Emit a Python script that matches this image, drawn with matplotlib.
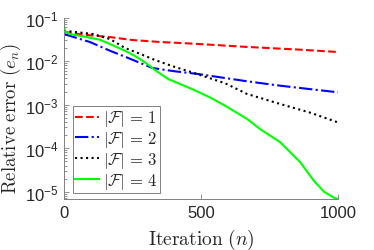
import numpy as np
import matplotlib
matplotlib.use('Agg')
import matplotlib.pyplot as plt
from matplotlib.ticker import FixedLocator, LogLocator, NullFormatter, NullLocator

plt.rcParams['font.family'] = ['Liberation Sans', 'DejaVu Sans']
plt.rcParams['mathtext.fontset'] = 'custom'
plt.rcParams['mathtext.rm'] = 'Liberation Sans'
plt.rcParams['mathtext.it'] = 'Liberation Sans:italic'

# values (iteration, relative error)
n_red = [0, 50, 100, 170, 250, 350, 450, 550, 650, 750, 850, 1000]
e_red = [0.047, 0.042, 0.039, 0.0355, 0.0305, 0.0275, 0.0256, 0.0235, 0.0215, 0.0199, 0.0185, 0.0162]

n_blue = [0, 95, 168, 223, 280, 321, 360, 405, 489, 588, 668, 788, 1000]
e_blue = [0.0419, 0.0274, 0.0173, 0.0126, 0.0090, 0.0070, 0.0064, 0.00583, 0.00506, 0.00409, 0.00344, 0.00273, 0.00192]

n_black = [0, 50, 107, 168, 223, 280, 332, 400, 467, 588, 668, 788, 900, 1000]
e_black = [0.0498, 0.046, 0.0418, 0.0321, 0.0200, 0.0145, 0.0106, 0.0075, 0.00553, 0.0031, 0.00176, 0.00104, 0.00065, 0.00039]

n_green = [0, 3, 22, 80, 131, 168, 223, 260, 296, 332, 380, 467, 530, 588, 668, 715, 788, 861, 912, 949, 985, 1000]
e_green = [0.07, 0.048, 0.042, 0.036, 0.031, 0.0247, 0.0173, 0.0130, 0.00937, 0.00625, 0.00389, 0.00229, 0.0015,
           0.000948, 0.00047, 0.000277, 0.000139, 4.85e-5, 1.78e-5, 1.0e-5, 7.3e-6, 6.8e-6]

labels = [r'$|\mathcal{F}|\,=\,1$', r'$|\mathcal{F}|\,=\,2$', r'$|\mathcal{F}|\,=\,3$', r'$|\mathcal{F}|\,=\,4$']
x_ticks = [0, 500, 1000]
y_ticks = [1e-5, 1e-4, 1e-3, 1e-2, 1e-1]
y_ticklabels = [r'$\mathregular{10^{-5}}$', r'$\mathregular{10^{-4}}$', r'$\mathregular{10^{-3}}$',
                r'$\mathregular{10^{-2}}$', r'$\mathregular{10^{-1}}$']

fig = plt.figure(figsize=(3.74, 2.51), dpi=100)
ax = fig.add_axes([0.171, 0.203, 0.733, 0.723])

lw = 1.5
ax.semilogy(n_red, e_red, color='#ff0000', ls='--', lw=lw, label=labels[0])
ax.semilogy(n_blue, e_blue, color='#0000ff', ls='-.', lw=lw, label=labels[1])
ax.semilogy(n_black, e_black, color='black', ls=':', lw=lw, label=labels[2])
ax.semilogy(n_green, e_green, color='#00ff00', ls='-', lw=lw, label=labels[3])

ax.set_xlim(0, 1000)
ax.set_ylim(6.8e-6, 0.1)

ax.xaxis.set_major_locator(FixedLocator(x_ticks))
ax.xaxis.set_minor_locator(NullLocator())
ax.set_xticklabels([str(v) for v in x_ticks])
ax.yaxis.set_major_locator(FixedLocator(y_ticks))
ax.set_yticklabels(y_ticklabels)
ax.yaxis.set_minor_locator(LogLocator(base=10, subs=np.arange(2, 10)))
ax.yaxis.set_minor_formatter(NullFormatter())

for s in ['top', 'right']:
    ax.spines[s].set_visible(False)
for s in ['left', 'bottom']:
    ax.spines[s].set_color('#808080')
    ax.spines[s].set_linewidth(0.7)

ax.tick_params(which='both', direction='in', colors='#808080', labelcolor='#262626', labelsize=12, width=0.6)
ax.tick_params(which='major', length=3.5, pad=4)
ax.tick_params(which='minor', length=1.8)

ax.set_xlabel(r'$\mathrm{Iteration}\ (n)$', fontsize=14, color='#262626', math_fontfamily='cm', labelpad=5)
ax.set_ylabel(r'$\mathrm{Relative\ error}\ (e_n)$', fontsize=13.5, color='#262626', math_fontfamily='cm',
              va='center')
ax.yaxis.set_label_coords(-0.192, 0.45)

leg = ax.legend(loc='lower left', bbox_to_anchor=(0.032, 0.031), borderaxespad=0, fancybox=False,
                edgecolor='#808080', framealpha=1, fontsize=12, handlelength=1.4, handletextpad=0.25,
                borderpad=0.15, labelspacing=0.05)
leg.get_frame().set_linewidth(0.7)
for t in leg.get_texts():
    t.set_math_fontfamily('cm')
    t.set_color('#262626')

fig.savefig('out.png', dpi=100)
